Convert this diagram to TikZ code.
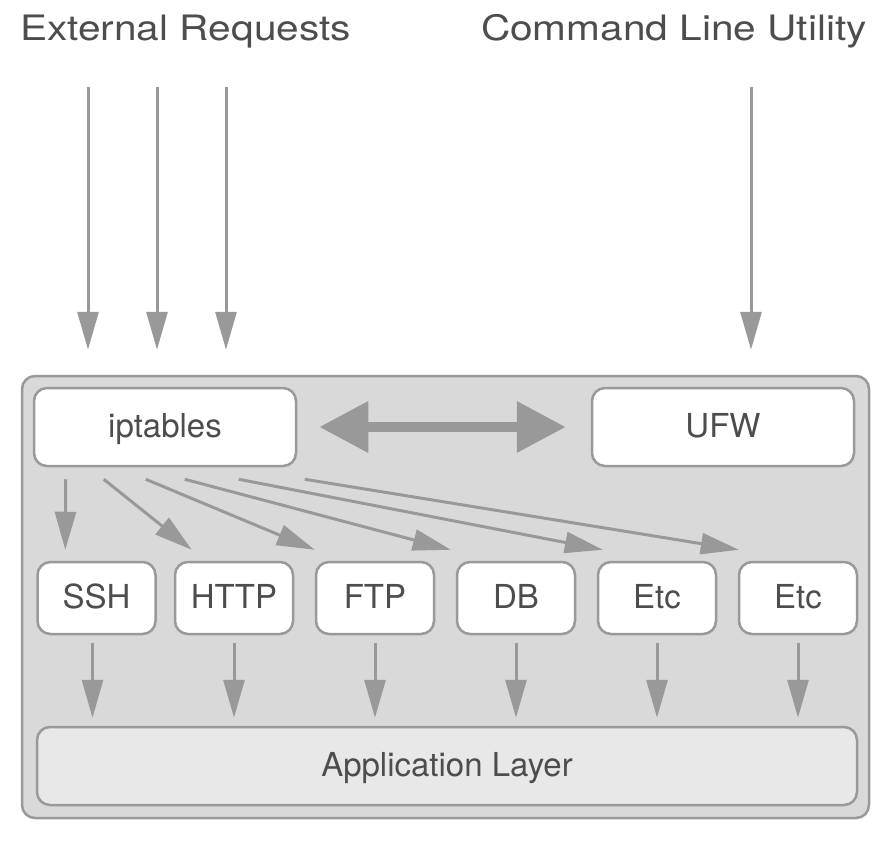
\documentclass[tikz,border=0pt]{standalone}
\usepackage{fontspec}
\setmainfont{TeX Gyre Heros}
\newfontfamily\titlefont[FakeStretch=1.16]{TeX Gyre Heros}
\usetikzlibrary{arrows.meta}
\definecolor{linegray}{HTML}{999999}
\definecolor{outerfill}{HTML}{D9D9D9}
\definecolor{appfill}{HTML}{E8E8E8}
\definecolor{txt}{HTML}{4D4D4D}
\tikzset{
  box/.style={draw=linegray, line width=2.5pt, rounded corners=13pt, fill=white,
    inner sep=0pt, text=txt, font=\fontsize{33}{33}\selectfont,
    text height=21pt, text depth=0pt},
  bigbox/.style={box, minimum width=262pt, minimum height=78pt},
  smallbox/.style={box, minimum width=118pt, minimum height=72pt},
  arr/.style={draw=linegray, line width=3pt, -{Triangle[length=38pt,width=21pt]}},
  dblarr/.style={draw=linegray, line width=10pt, {Triangle[length=49pt,width=49pt]}-{Triangle[length=49pt,width=49pt]}},
  title/.style={text=txt, font=\titlefont\fontsize{35}{35}\selectfont, inner sep=0pt}
}
\begin{document}
\begin{tikzpicture}[x=1pt,y=-1pt]
\useasboundingbox (0,0) rectangle (891,843);
\node[title, anchor=base west] (ext) at (20,41) {External Requests};
\node[title, anchor=base east] (cmd) at (867,41) {Command Line Utility};

\node[draw=linegray, line width=2.5pt, fill=outerfill, rounded corners=13pt,
  minimum width=847pt, minimum height=442pt, inner sep=0pt] (outer) at (445.5,597) {};

\node[bigbox] (ipt) at (165,427) {iptables};
\node[bigbox] (ufw) at (723,427) {UFW};

\node[smallbox] (ssh) at (96.5,598) {SSH};
\node[smallbox] (http) at (234,598) {HTTP};
\node[smallbox] (ftp) at (375,598) {FTP};
\node[smallbox] (db) at (516,598) {DB};
\node[smallbox] (etca) at (657,598) {Etc};
\node[smallbox] (etcb) at (798,598) {Etc};

\node[box, fill=appfill, minimum width=820pt, minimum height=78pt] (app) at (447,766) {Application Layer};

% incoming arrows
\coordinate (r1) at (88,87);
\coordinate (r2) at (157,87);
\coordinate (r3) at (226,87);
\coordinate (r4) at (751,87);
\foreach \c in {r1,r2,r3,r4}
  \draw[arr, shorten >=25pt] (\c) -- (\c |- outer.north);

% double arrow
\draw[dblarr] ([xshift=22pt]ipt.east) -- ([xshift=-25pt]ufw.west);

% fan arrows
\draw[arr] ([xshift=33pt,yshift=-12pt]ipt.south west) -- ([xshift=29pt,yshift=11pt]ssh.north west);
\draw[arr] ([xshift=71pt,yshift=-12pt]ipt.south west) -- ([xshift=18pt,yshift=11pt]http.north west);
\draw[arr] ([xshift=113pt,yshift=-12pt]ipt.south west) -- ([xshift=0pt,yshift=11pt]ftp.north west);
\draw[arr] ([xshift=152pt,yshift=-12pt]ipt.south west) -- ([xshift=-5pt,yshift=11pt]db.north west);
\draw[arr] ([xshift=206pt,yshift=-12pt]ipt.south west) -- ([xshift=6pt,yshift=11pt]etca.north west);
\draw[arr] ([xshift=272pt,yshift=-12pt]ipt.south west) -- ([xshift=1pt,yshift=11pt]etcb.north west);

% down to application layer
\draw[arr] ([xshift=-4pt,yshift=-8pt]ssh.south) -- ([xshift=-4pt,yshift=8pt]ssh.south |- app.north);
\foreach \b in {http,ftp,db,etca,etcb}
  \draw[arr] ([yshift=-8pt]\b.south) -- ([yshift=8pt]\b.south |- app.north);
\end{tikzpicture}
\end{document}
